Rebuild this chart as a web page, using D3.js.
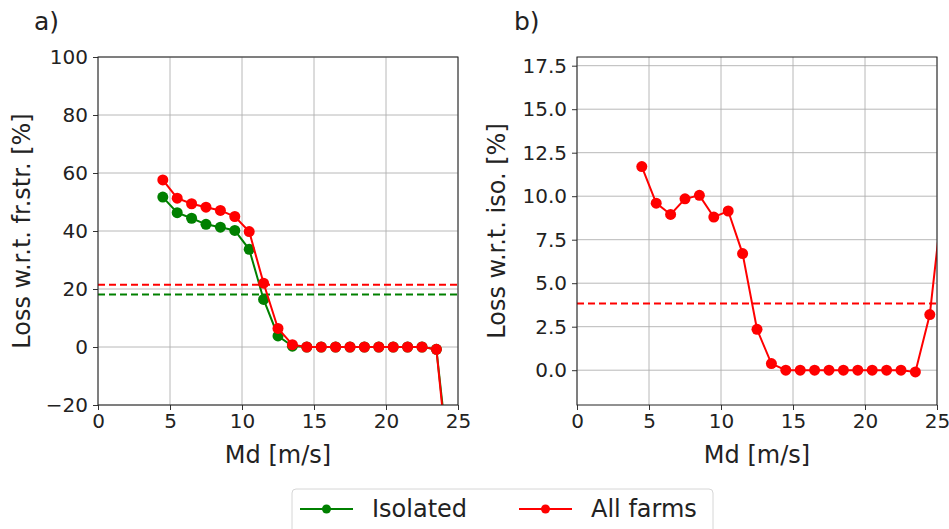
<!DOCTYPE html>
<html>
<head>
<meta charset="utf-8">
<script src="https://cdn.jsdelivr.net/npm/d3@7"></script>
<style>
  body { margin: 0; background: #fff; }
  svg { font-family: "DejaVu Sans", sans-serif; }
</style>
</head>
<body>
<div id="chart"></div>
<script>
// wind speeds (bin centres)
const speedsA = [4.5, 5.5, 6.5, 7.5, 8.5, 9.5, 10.5, 11.5, 12.5, 13.5, 14.5, 15.5, 16.5, 17.5, 18.5, 19.5, 20.5, 21.5, 22.5, 23.5, 24.5];
const speedsB = [4.5, 5.5, 6.5, 7.5, 8.5, 9.5, 10.5, 11.5, 12.5, 13.5, 14.5, 15.5, 16.5, 17.5, 18.5, 19.5, 20.5, 21.5, 22.5, 23.5, 24.5, 25.5];

// a) loss w.r.t. free stream [%]
const isolatedA = [51.7, 46.3, 44.4, 42.3, 41.3, 40.2, 33.7, 16.4, 3.8, 0.3, 0, 0, 0, 0, 0, 0, 0, 0, 0, -0.8, -46];
const allFarmsA = [57.6, 51.3, 49.4, 48.2, 47.1, 45.0, 39.8, 22.0, 6.4, 0.8, 0, 0, 0, 0, 0, 0, 0, 0, 0, -0.8, -50];
const meanIsolatedA = 18.1;
const meanAllFarmsA = 21.5;

// b) loss w.r.t. isolated [%]
const allFarmsB = [11.7, 9.6, 8.95, 9.85, 10.05, 8.8, 9.15, 6.7, 2.35, 0.38, 0, 0, 0, 0, 0, 0, 0, 0, 0, -0.1, 3.2, 10.6];
const meanAllFarmsB = 3.83;

const ticksXA = [0, 5, 10, 15, 20, 25];
const ticksYA = [-20, 0, 20, 40, 60, 80, 100];
const ticksYB = [0, 2.5, 5, 7.5, 10, 12.5, 15, 17.5];

const GREEN = "#008000";
const RED = "#ff0000";

const width = 949, height = 529;
const svg = d3.select("#chart").append("svg")
    .attr("width", width)
    .attr("height", height);

function panel(opts) {
    const x = d3.scaleLinear().domain([0, 25]).range([opts.left, opts.left + 360]);
    const y = d3.scaleLinear().domain(opts.yDomain).range([405, 57]);
    const g = svg.append("g");

    // grid
    g.append("g").selectAll("line").data(ticksXA).enter().append("line")
        .attr("x1", d => x(d)).attr("x2", d => x(d))
        .attr("y1", 57).attr("y2", 405)
        .attr("stroke", "#b0b0b0").attr("stroke-width", 0.9);
    g.append("g").selectAll("line").data(opts.yTicks).enter().append("line")
        .attr("x1", x(0)).attr("x2", x(25))
        .attr("y1", d => y(d)).attr("y2", d => y(d))
        .attr("stroke", "#b0b0b0").attr("stroke-width", 0.9);

    const clipId = "clip" + opts.name;
    svg.append("clipPath").attr("id", clipId).append("rect")
        .attr("x", x(0)).attr("y", 57).attr("width", 360).attr("height", 348);
    const plot = g.append("g").attr("clip-path", `url(#${clipId})`);

    // dashed means
    opts.means.forEach(m => {
        plot.append("line")
            .attr("x1", x(0)).attr("x2", x(25))
            .attr("y1", y(m.value)).attr("y2", y(m.value))
            .attr("stroke", m.color).attr("stroke-width", 2)
            .attr("stroke-dasharray", "7,4");
    });

    const line = d3.line().x(d => x(d[0])).y(d => y(d[1]));
    opts.series.forEach(s => {
        const pts = s.xs.map((v, i) => [v, s.ys[i]]);
        plot.append("path").datum(pts)
            .attr("d", line)
            .attr("fill", "none")
            .attr("stroke", s.color).attr("stroke-width", 2);
        plot.selectAll(null).data(pts).enter().append("circle")
            .attr("cx", d => x(d[0])).attr("cy", d => y(d[1]))
            .attr("r", 5.5).attr("fill", s.color);
    });

    // axes
    const ax = g.append("g").attr("transform", "translate(0,405)")
        .call(d3.axisBottom(x).tickValues(ticksXA).tickSize(5).tickPadding(4));
    const ay = g.append("g").attr("transform", `translate(${x(0)},0)`)
        .call(d3.axisLeft(y).tickValues(opts.yTicks).tickSize(5).tickPadding(5)
            .tickFormat(opts.tickFormat));
    [ax, ay].forEach(a => {
        a.select(".domain").remove();
        a.selectAll("text").attr("font-size", 20).attr("fill", "#222")
            .attr("font-family", "DejaVu Sans, sans-serif");
        a.selectAll("line").attr("stroke", "#333");
    });

    // frame
    g.append("rect")
        .attr("x", x(0)).attr("y", 57).attr("width", 360).attr("height", 348)
        .attr("fill", "none").attr("stroke", "#222").attr("stroke-width", 1);

    g.append("text")
        .attr("x", x(12.5)).attr("y", 463)
        .attr("text-anchor", "middle").attr("font-size", 24).attr("fill", "#222")
        .text("Md [m/s]");
    g.append("text")
        .attr("transform", `translate(${opts.ylabelX},231) rotate(-90)`)
        .attr("text-anchor", "middle").attr("font-size", 24).attr("fill", "#222")
        .text(opts.ylabel);
    g.append("text")
        .attr("x", opts.tagX).attr("y", 30)
        .attr("font-size", 25).attr("fill", "#222")
        .text(opts.tag);
}

panel({
    name: "a", left: 98, yDomain: [-20, 100], yTicks: ticksYA,
    tickFormat: d => d < 0 ? "\u2212" + Math.abs(d) : d,
    ylabel: "Loss w.r.t. fr.str. [%]", ylabelX: 30, tag: "a)", tagX: 34,
    means: [{ value: meanIsolatedA, color: GREEN }, { value: meanAllFarmsA, color: RED }],
    series: [
        { xs: speedsA, ys: isolatedA, color: GREEN },
        { xs: speedsA, ys: allFarmsA, color: RED }
    ]
});

panel({
    name: "b", left: 577, yDomain: [-2, 18], yTicks: ticksYB,
    tickFormat: d3.format(".1f"),
    ylabel: "Loss w.r.t. iso. [%]", ylabelX: 505, tag: "b)", tagX: 514,
    means: [{ value: meanAllFarmsB, color: RED }],
    series: [
        { xs: speedsB, ys: allFarmsB, color: RED }
    ]
});

// legend
const legendItems = [
    { label: "Isolated", color: GREEN, x: 300 },
    { label: "All farms", color: RED, x: 519 }
];
const lg = svg.append("g");
lg.append("rect")
    .attr("x", 292).attr("y", 489).attr("width", 421).attr("height", 48)
    .attr("rx", 4).attr("fill", "#fff").attr("stroke", "#d6d6d6").attr("stroke-width", 1);
legendItems.forEach(it => {
    lg.append("line")
        .attr("x1", it.x).attr("x2", it.x + 53)
        .attr("y1", 509).attr("y2", 509)
        .attr("stroke", it.color).attr("stroke-width", 2);
    lg.append("circle")
        .attr("cx", it.x + 26.5).attr("cy", 509).attr("r", 4.5).attr("fill", it.color);
    lg.append("text")
        .attr("x", it.x + 72).attr("y", 517)
        .attr("font-size", 24).attr("fill", "#222")
        .text(it.label);
});
</script>
</body>
</html>
